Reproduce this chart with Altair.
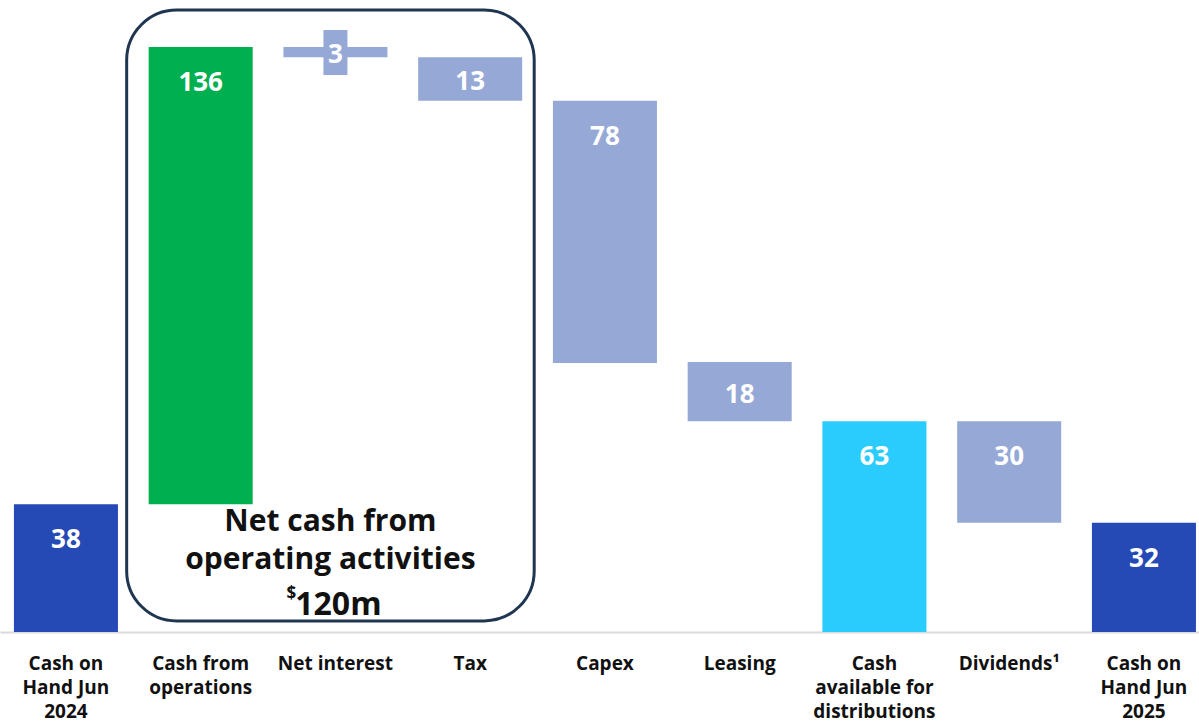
import altair as alt
import pandas as pd

categories = [
    "Cash on|Hand Jun|2024",
    "Cash from|operations",
    "Net interest",
    "Tax",
    "Capex",
    "Leasing",
    "Cash|available for|distributions",
    "Dividends¹",
    "Cash on|Hand Jun|2025",
]
low_values = [0, 38, 171, 158, 80, 62.7, 0, 32.5, 0]
high_values = [38, 174, 174, 171, 158, 80.3, 62.7, 62.7, 32.5]
value_labels = ["38", "136", "3", "13", "78", "18", "63", "30", "32"]
kinds = ["cash", "inflow", "outflow", "outflow", "outflow", "outflow", "available", "outflow", "cash"]

kind_domain = ["cash", "inflow", "outflow", "available"]
kind_colors = ["#2549B5", "#00AF4F", "#96A8D6", "#2ACCFD"]

df = pd.DataFrame({
    "cat": categories,
    "low": low_values,
    "high": high_values,
    "label": value_labels,
    "kind": kinds,
})

FONT = "Open Sans"

x_scale = alt.Scale(domain=categories, paddingInner=0.228, paddingOuter=0.063, align=0.82)
x_enc = alt.X(
    "cat:N",
    title=None,
    scale=x_scale,
    axis=alt.Axis(
        labelExpr="split(datum.label, '|')",
        labelAngle=0,
        labelFont=FONT,
        labelFontSize=19,
        labelFontWeight="bold",
        labelColor="#111111",
        labelLineHeight=24,
        labelBaseline="top",
        labelPadding=22,
        ticks=False,
        domainColor="#DADADA",
        domainWidth=2,
        grid=False,
        labelLimit=300,
    ),
)
y_scale = alt.Scale(domain=[0, 188], nice=False, zero=True)

base = alt.Chart(df)

bars = base.mark_bar().encode(
    x=x_enc,
    y=alt.Y("low:Q", scale=y_scale, axis=None, title=None),
    y2="high:Q",
    color=alt.Color("kind:N", scale=alt.Scale(domain=kind_domain, range=kind_colors), legend=None),
)

label_box = base.transform_filter(
    "datum.label == '3'"
).transform_calculate(
    blo="datum.low - 5.3", bhi="datum.high + 5.1"
).mark_bar(width=24, color="#96A8D6").encode(
    x=alt.X("cat:N", scale=x_scale),
    y=alt.Y("blo:Q", scale=y_scale),
    y2="bhi:Q",
)

labels = base.transform_calculate(
    ly="max((datum.low + datum.high) / 2, datum.high - 9.8)"
).mark_text(
    font=FONT, fontSize=26, fontWeight="bold", color="white", baseline="middle", dy=3
).encode(
    x=alt.X("cat:N", scale=x_scale),
    y=alt.Y("ly:Q", scale=y_scale),
    text="label:N",
)

box_df = pd.DataFrame({"c0": ["Cash from|operations"], "c1": ["Tax"]})
box = alt.Chart(box_df).mark_rect(
    cornerRadius=50, fillOpacity=0, fill="white", stroke="#1F3550", strokeWidth=3,
    xOffset=-22, x2Offset=12,
).encode(
    x=alt.X("c0:N", scale=x_scale, bandPosition=0),
    x2=alt.X2("c1:N", bandPosition=1),
    y=alt.datum(185, scale=y_scale),
    y2=alt.datum(3.3),
)

ann_lines = ["Net cash from", "operating activities"]
ann_df = pd.DataFrame({"cat": ["Net interest"], "t": [ann_lines]})
ann = alt.Chart(ann_df).mark_text(
    font=FONT, fontSize=30, fontWeight="bold", color="#111111", baseline="middle",
    lineHeight=38, dx=-5,
).encode(
    x=alt.X("cat:N", scale=x_scale),
    y=alt.datum(32.6, scale=y_scale),
    text="t",
)
amount_df = pd.DataFrame({"cat": ["Net interest"], "t": ["120m"], "s": ["$"]})
amount = alt.Chart(amount_df).mark_text(
    font=FONT, fontSize=32, fontWeight="bold", color="#111111", baseline="middle", dx=3,
).encode(
    x=alt.X("cat:N", scale=x_scale),
    y=alt.datum(7.9, scale=y_scale),
    text="t:N",
)
dollar = alt.Chart(amount_df).mark_text(
    font=FONT, fontSize=17, fontWeight="bold", color="#111111", baseline="middle", dx=-44,
).encode(
    x=alt.X("cat:N", scale=x_scale),
    y=alt.datum(11.4, scale=y_scale),
    text="s:N",
)

chart = alt.layer(bars, label_box, labels, box, ann, amount, dollar).properties(
    width=1199,
    height=632,
    autosize=alt.AutoSizeParams(type="none"),
    padding={"left": 0, "top": 0, "right": 0, "bottom": 95},
    background="white",
).configure_view(stroke=None)

chart.save("out.html", embed_options={"renderer": "svg", "actions": False})
